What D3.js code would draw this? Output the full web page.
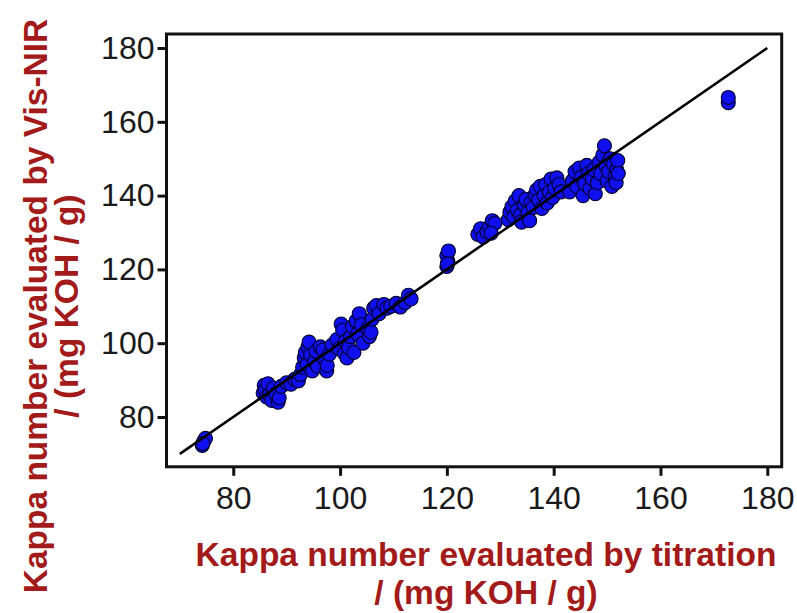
<!DOCTYPE html>
<html>
<head>
<meta charset="utf-8">
<script src="https://cdn.jsdelivr.net/npm/d3@7"></script>
<style>
  html, body { margin: 0; padding: 0; background: #fff; }
  svg { display: block; }
</style>
</head>
<body>
<svg id="chart" width="797" height="613"></svg>
<script>
// Kappa number: reference titration (x) vs. Vis-NIR prediction (y)
const titration = [
  74.2, 74.5, 74.8, 74.3,
  85.6, 85.8, 86.0, 86.3, 86.5, 86.8, 87.2, 87.5, 88.0, 88.4, 88.6, 89.0, 90.0, 90.8,
  91.5, 92.2, 92.6, 93.0, 93.3, 93.5, 93.8, 94.0, 94.2, 94.5, 94.8, 95.2, 95.5, 95.8, 96.3, 96.8, 97.2, 97.5, 97.6, 98.0, 98.5,
  99.4, 99.8, 100.2, 100.5, 100.8, 101.0, 101.3, 101.6, 102.0, 102.3, 102.6, 103.0, 103.3, 103.6, 104.0, 104.3,
  105.2, 105.5, 105.8, 106.0, 106.3, 106.8, 107.3, 108.2, 108.8, 109.5, 110.5, 111.3, 112.2, 112.8, 113.3,
  120.0, 120.2, 120.0, 120.3, 120.1,
  125.8, 126.3, 126.8, 127.5, 128.0, 128.5, 129.0, 128.3,
  131.5, 131.8, 132.2, 132.5, 132.8, 133.2, 133.5, 133.8, 134.0, 134.5, 134.8, 135.2, 135.5, 135.8, 136.2,
  136.5, 136.8, 137.2, 137.5, 137.8, 138.2, 138.5, 138.8, 139.2, 139.5, 139.8, 140.2, 140.6, 141.0, 141.4,
  143.0, 143.5, 144.0, 144.3, 144.8, 145.2, 145.5, 145.8, 146.2, 146.5, 146.8, 147.2, 147.5, 147.8, 148.2,
  148.5, 148.8, 149.2, 149.5, 149.8, 150.0, 150.3, 150.6, 150.9, 151.2, 151.5, 151.8, 152.0, 151.7, 152.1,
  172.7, 172.7
];
const visNir = [
  72.3, 73.5, 74.2, 72.8,
  86.5, 88.6, 87.2, 85.4, 89.0, 86.0, 84.5, 87.8, 86.2, 84.0, 85.2, 88.3, 89.3, 88.9,
  90.2, 89.8, 91.5, 93.5, 96.0, 97.5, 94.2, 99.0, 100.3, 96.8, 92.5, 95.0, 97.8, 93.8, 99.0, 98.2, 95.5, 92.5, 94.0, 97.0, 99.5,
  101.0, 98.5, 105.2, 103.5, 97.2, 100.5, 96.0, 98.8, 101.8, 104.5, 97.5, 106.0, 102.5, 108.0, 105.0, 100.0,
  104.0, 101.8, 103.0, 106.5, 109.5, 110.2, 108.0, 110.5, 109.5, 110.0, 110.8, 109.8, 111.0, 113.0, 112.0,
  120.8, 122.2, 123.8, 125.0, 121.5,
  129.5, 131.0, 128.8, 130.2, 131.5, 133.2, 132.5, 129.8,
  133.5, 135.5, 137.0, 134.2, 138.5, 136.0, 140.0, 134.8, 132.8, 137.5, 139.0, 135.5, 133.2, 138.0, 136.8,
  140.2, 141.5, 138.8, 142.5, 136.5, 140.0, 143.0, 138.0, 141.0, 144.5, 139.5, 142.0, 144.8, 143.0, 141.0,
  141.0, 144.0, 146.5, 142.5, 147.5, 145.0, 140.0, 143.2, 148.2, 146.0, 142.0, 144.5, 147.0, 140.5, 143.5,
  149.0, 146.0, 151.0, 153.5, 148.0, 144.0, 146.5, 150.0, 142.5, 148.5, 145.5, 147.0, 149.5, 143.5, 146.0,
  165.2, 166.6
];
const tickValues = [80, 100, 120, 140, 160, 180];
const lineEnds = [70, 180];   // 1:1 reference line

const xTitle = ["Kappa number evaluated by titration", "/ (mg KOH / g)"];
const yTitle = ["Kappa number evaluated by Vis-NIR", "/ (mg KOH / g)"];

const points = titration.map((t, i) => ({ x: t, y: visNir[i] }));

const svg = d3.select("#chart");
const x = d3.scaleLinear().domain([67.5, 182.7]).range([166.5, 781.7]);
const y = d3.scaleLinear().domain([66.5, 183.8]).range([466.8, 34]);

const titleColor = "#a31a1a";
const font = "Arial, 'Liberation Sans', Helvetica, sans-serif";

// axes with outward ticks, drawn without domain lines
const xAxis = svg.append("g")
  .attr("transform", `translate(0,${y.range()[0]})`)
  .call(d3.axisBottom(x).tickValues(tickValues).tickSize(9).tickPadding(10).tickFormat(d3.format("d")));
const yAxis = svg.append("g")
  .attr("transform", `translate(${x.range()[0]},0)`)
  .call(d3.axisLeft(y).tickValues(tickValues).tickSize(9).tickPadding(3).tickFormat(d3.format("d")));

[xAxis, yAxis].forEach(g => {
  g.select(".domain").remove();
  g.selectAll(".tick line").attr("stroke", "#111").attr("stroke-width", 3);
  g.selectAll(".tick text")
    .attr("fill", "#1a1a1a")
    .style("font-family", font)
    .style("font-size", "32px");
});

// scatter markers
svg.append("g")
  .selectAll("circle")
  .data(points)
  .join("circle")
  .attr("cx", d => x(d.x))
  .attr("cy", d => y(d.y))
  .attr("r", 7)
  .attr("fill", "#1010ee")
  .attr("stroke", "#00002a")
  .attr("stroke-width", 1.1);

// 1:1 line on top of the markers
svg.append("line")
  .attr("x1", x(lineEnds[0])).attr("y1", y(lineEnds[0]))
  .attr("x2", x(lineEnds[1])).attr("y2", y(lineEnds[1]))
  .attr("stroke", "#000").attr("stroke-width", 2.6);

// plot frame
svg.append("rect")
  .attr("x", x.range()[0]).attr("y", y.range()[1])
  .attr("width", x.range()[1] - x.range()[0])
  .attr("height", y.range()[0] - y.range()[1])
  .attr("fill", "none").attr("stroke", "#111").attr("stroke-width", 3);

// axis titles
const xt = svg.append("text")
  .attr("text-anchor", "middle")
  .attr("fill", titleColor)
  .style("font-family", font).style("font-weight", "bold").style("font-size", "33.5px");
xTitle.forEach((s, i) => xt.append("tspan").attr("x", 486).attr("y", 566 + i * 38).text(s));

const yt = svg.append("text")
  .attr("text-anchor", "middle")
  .attr("transform", "rotate(-90)")
  .attr("fill", titleColor)
  .style("font-family", font).style("font-weight", "bold").style("font-size", "33.5px");
yTitle.forEach((s, i) => yt.append("tspan").attr("x", -306).attr("y", 47 + i * 31).text(s));
</script>
</body>
</html>
